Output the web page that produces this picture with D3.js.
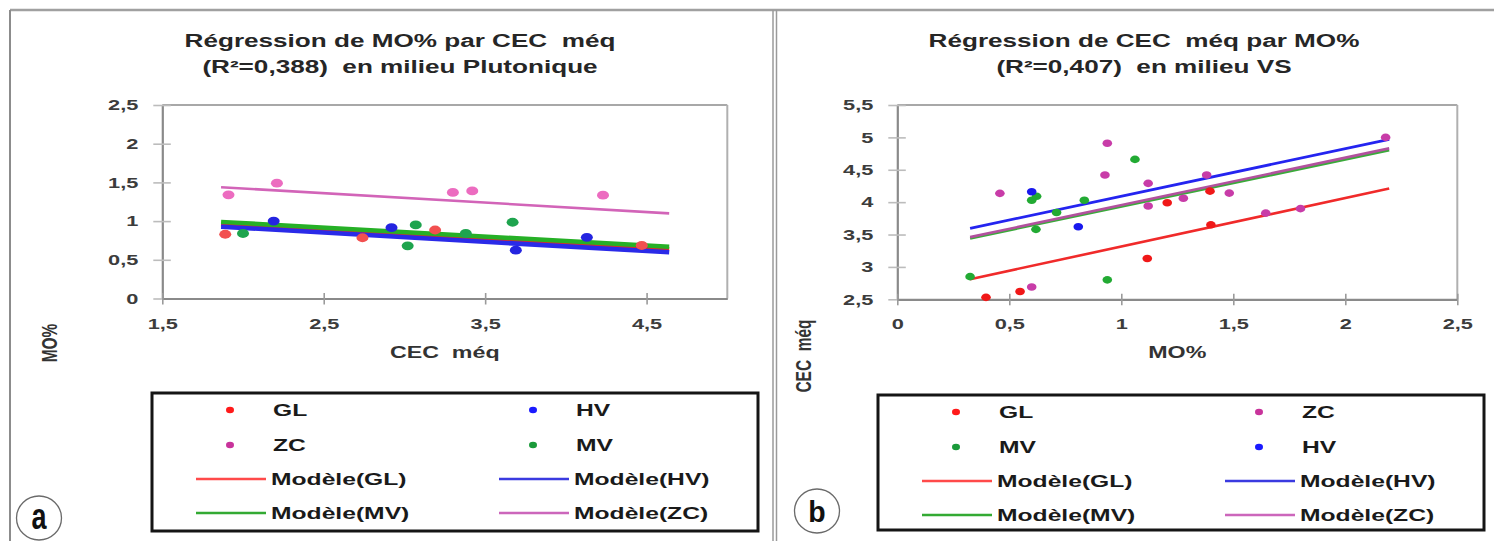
<!DOCTYPE html>
<html><head><meta charset="utf-8">
<script src="https://cdn.jsdelivr.net/npm/d3@7"></script>
<style>
html,body{margin:0;padding:0;background:#fff;}
svg{display:block;}
text{font-family:"Liberation Sans",Arial,sans-serif;}
</style>
</head><body>
<svg id="c" width="1494" height="541"></svg>
<script>
// ---------- DATA ----------
// Panel a : MO% (y) vs CEC méq (x), milieu Plutonique
const aTitle = ["Régression de MO% par CEC  méq", "(R²=0,388)  en milieu Plutonique"];
const aXTitle = "CEC  méq";
const aYTitle = "MO%";
const aXTicks = [1.5, 2.5, 3.5, 4.5];
const aYTicks = [0, 0.5, 1, 1.5, 2, 2.5];
const aGL = [[1.89,0.83],[2.74,0.785],[3.19,0.885],[4.47,0.685]];
const aHV = [[2.19,1.0],[2.92,0.915],[3.69,0.625],[4.13,0.79]];
const aZC = [[1.91,1.34],[2.21,1.49],[3.30,1.37],[3.42,1.39],[4.23,1.335]];
const aMV = [[2.0,0.84],[3.02,0.68],[3.07,0.95],[3.38,0.84],[3.67,0.985]];
const aModelGL = [[1.864,0.958],[4.64,0.635]];
const aModelHV = [[1.864,0.928],[4.64,0.596]];
const aModelMV = [[1.864,0.99],[4.64,0.668]];
const aModelZC = [[1.864,1.438],[4.64,1.10]];
const aLegend = ["GL","HV","ZC","MV","Modèle(GL)","Modèle(HV)","Modèle(MV)","Modèle(ZC)"];

// Panel b : CEC méq (y) vs MO% (x), milieu VS
const bTitle = ["Régression de CEC  méq par MO%", "(R²=0,407)  en milieu VS"];
const bXTitle = "MO%";
const bYTitle = "CEC  méq";
const bXTicks = [0, 0.5, 1, 1.5, 2, 2.5];
const bYTicks = [2.5, 3, 3.5, 4, 4.5, 5, 5.5];
const bGL = [[0.396,2.53],[0.548,2.62],[1.116,3.13],[1.205,3.99],[1.396,4.17],[1.40,3.65]];
const bZC = [[0.458,4.136],[0.60,2.69],[0.9375,4.91],[0.927,4.42],[1.12,4.29],[1.12,3.94],[1.277,4.06],[1.381,4.42],[1.482,4.14],[1.645,3.83],[1.80,3.90],[2.18,5.0]];
const bMV = [[0.325,2.85],[0.60,4.03],[0.622,4.09],[0.619,3.58],[0.711,3.84],[0.835,4.03],[0.9375,2.80],[1.061,4.66]];
const bHV = [[0.60,4.16],[0.808,3.62]];
const bModelGL = [[0.325,2.81],[2.196,4.21]];
const bModelHV = [[0.325,3.596],[2.196,4.97]];
const bModelMV = [[0.325,3.44],[2.196,4.80]];
const bModelZC = [[0.325,3.46],[2.196,4.83]];
const bLegend = ["GL","ZC","MV","HV","Modèle(GL)","Modèle(HV)","Modèle(MV)","Modèle(ZC)"];

// ---------- DRAWING ----------
const SX = 1.45; // the reference is horizontally stretched
const svg = d3.select("#c");
const fmt = d => String(d).replace(".", ",");

function stretch(sel, k) {
  sel.each(function () {
    const w = this.getComputedTextLength();
    this.setAttribute("textLength", w * (k || SX));
    this.setAttribute("lengthAdjust", "spacingAndGlyphs");
  });
}

// outer frames
svg.append("line").attr("x1",10).attr("x2",1494).attr("y1",10).attr("y2",10).attr("stroke","#a0a0a0").attr("stroke-width",2.5);
svg.append("line").attr("x1",10).attr("x2",10).attr("y1",10).attr("y2",541).attr("stroke","#8c8c8c").attr("stroke-width",2);
svg.append("line").attr("x1",773).attr("x2",773).attr("y1",10).attr("y2",541).attr("stroke","#9a9a9a").attr("stroke-width",1.5);
svg.append("line").attr("x1",776.5).attr("x2",776.5).attr("y1",10).attr("y2",541).attr("stroke","#9a9a9a").attr("stroke-width",1.5);

const COL = {
  a: {GL:"#f25050", HV:"#2424e0", ZC:"#ec6cc0", MV:"#1ea44e",
      lGL:"#dc2a2a", lHV:"#2a2ae8", lZC:"#d264b8", lMV:"#26b026"},
  b: {GL:"#f01818", HV:"#1818ee", ZC:"#c83ca8", MV:"#22aa33",
      lGL:"#f02a2a", lHV:"#2424f0", lZC:"#b2519e", lMV:"#3aaa3a"},
  leg: {GL:"#ff1a1a", HV:"#1a1aff", ZC:"#c8339b", MV:"#1a9a3a",
      lGL:"#ff4a4a", lHV:"#3a3ae0", lZC:"#cc66bb", lMV:"#33aa33"}
};

function panel(cfg) {
  const x = d3.scaleLinear().domain(cfg.xDomain).range([cfg.x0, cfg.x1]);
  const y = d3.scaleLinear().domain(cfg.yDomain).range([cfg.y1, cfg.y0]);
  const g = svg.append("g");

  // titles
  cfg.title.forEach((t, i) => {
    g.append("text").attr("x", cfg.titleX).attr("y", 47 + i * 26)
      .attr("text-anchor","middle").style("white-space","pre")
      .attr("font-size",18).attr("font-weight","bold").attr("fill","#262626")
      .text(t).call(stretch);
  });

  // plot frame (top + right)
  g.append("line").attr("x1",cfg.x0).attr("x2",cfg.x1).attr("y1",cfg.y0).attr("y2",cfg.y0).attr("stroke","#a8a8a8").attr("stroke-width",2);
  g.append("line").attr("x1",cfg.x1).attr("x2",cfg.x1).attr("y1",cfg.y0).attr("y2",cfg.y1).attr("stroke","#b0b0b0").attr("stroke-width",2);

  // axes
  const gy = g.append("g").attr("transform",`translate(${cfg.x0},0)`)
    .call(d3.axisLeft(y).tickValues(cfg.yTicks).tickFormat(fmt).tickSize(9).tickSizeOuter(0).tickPadding(15));
  gy.select(".domain").attr("stroke","#8a8a8a").attr("stroke-width",2.2);
  gy.selectAll(".tick line").attr("x1",8.5).attr("stroke","#bcbcbc").attr("stroke-width",1.6);
  gy.selectAll(".tick text").attr("font-size",15).attr("font-weight","bold").attr("fill","#3c3c3c").call(stretch);

  const gx = g.append("g").attr("transform",`translate(0,${cfg.y1})`)
    .call(d3.axisBottom(x).tickValues(cfg.xTicks).tickFormat(fmt).tickSize(6).tickSizeOuter(0).tickPadding(13.5));
  gx.select(".domain").attr("stroke","#8a8a8a").attr("stroke-width",2.2);
  gx.selectAll(".tick line").attr("y1",-5.5).attr("stroke","#9a9a9a").attr("stroke-width",1.6);
  gx.selectAll(".tick text").attr("font-size",15).attr("font-weight","bold").attr("fill","#3c3c3c").call(stretch);

  // axis titles
  g.append("text").attr("x",(cfg.x0+cfg.x1)/2).attr("y",358).attr("text-anchor","middle")
    .style("white-space","pre").attr("font-size",16).attr("font-weight","bold").attr("fill","#333")
    .text(cfg.xTitle).call(stretch);
  g.append("g").attr("transform",`translate(${cfg.yTitleX},${cfg.yTitleY}) scale(${SX},1) rotate(-90)`)
    .append("text").attr("text-anchor","middle").attr("dy","0.36em").style("white-space","pre")
    .attr("font-size",15.5).attr("font-weight","bold").attr("fill","#333").text(cfg.yTitle);

  // model lines
  const line = d3.line().x(d => x(d[0])).y(d => y(d[1]));
  cfg.models.forEach(m => {
    g.append("path").datum(m.data).attr("d", line).attr("fill","none")
      .attr("stroke", m.color).attr("stroke-width", m.w).attr("stroke-linecap","butt");
  });

  // points
  cfg.series.forEach(s => {
    g.selectAll(null).data(s.data).join("ellipse")
      .attr("cx", d => x(d[0])).attr("cy", d => y(d[1]))
      .attr("rx", cfg.rx).attr("ry", cfg.ry).attr("fill", s.color);
  });

  // legend
  const L = cfg.leg.x, T = cfg.leg.y;
  g.append("rect").attr("x",L).attr("y",T).attr("width",cfg.leg.w).attr("height",cfg.leg.h)
    .attr("fill","#fff").attr("stroke","#151515").attr("stroke-width",3);
  const rows = [T+17, T+52, T+86, T+120];
  cfg.legItems.forEach((it, i) => {
    const r = rows[Math.floor(i/2)], c = i % 2;
    const base = c === 0 ? L : L + 303;
    if (it.type === "dot") {
      g.append("ellipse").attr("cx", base+78).attr("cy", r).attr("rx",4).attr("ry",3.3).attr("fill", it.color);
      g.append("text").attr("x", base+121).attr("y", r).attr("dy","0.36em")
        .attr("font-size",17).attr("font-weight","bold").attr("fill","#1a1a1a").text(it.label).call(stretch);
    } else {
      g.append("line").attr("x1", base+44).attr("x2", base+114).attr("y1", r).attr("y2", r)
        .attr("stroke", it.color).attr("stroke-width",2.6);
      g.append("text").attr("x", base+119).attr("y", r).attr("dy","0.36em")
        .attr("font-size",17).attr("font-weight","bold").attr("fill","#1a1a1a").text(it.label).call(stretch);
    }
  });

  // tag
  g.append("ellipse").attr("cx",cfg.tag.x).attr("cy",cfg.tag.y).attr("rx",22.5).attr("ry",22)
    .attr("fill","none").attr("stroke","#6a6a6a").attr("stroke-width",1.3);
  g.append("g").attr("transform",`translate(${cfg.tag.x},${cfg.tag.y + 11}) scale(${cfg.tag.sx},1)`)
    .append("text").attr("text-anchor","middle").attr("font-size",cfg.tag.size).attr("font-weight","bold")
    .attr("fill","#111").text(cfg.tag.t);
}

panel({
  x0:162.3, x1:727.3, y0:105, y1:298.5, xDomain:[1.5,5], yDomain:[0,2.5],
  xTicks:aXTicks, yTicks:aYTicks, title:aTitle, titleX:400,
  xTitle:aXTitle, yTitle:aYTitle, yTitleX:49, yTitleY:343,
  rx:6, ry:4.4,
  models:[
    {data:aModelGL, color:COL.a.lGL, w:4.5},
    {data:aModelMV, color:COL.a.lMV, w:4.5},
    {data:aModelHV, color:COL.a.lHV, w:4.5},
    {data:aModelZC, color:COL.a.lZC, w:2.6}
  ].sort((p,q)=>0),
  series:[
    {data:aGL, color:COL.a.GL},{data:aHV, color:COL.a.HV},
    {data:aZC, color:COL.a.ZC},{data:aMV, color:COL.a.MV}
  ],
  leg:{x:152, y:393, w:606, h:138},
  legItems:[
    {type:"dot", label:aLegend[0], color:COL.leg.GL},
    {type:"dot", label:aLegend[1], color:COL.leg.HV},
    {type:"dot", label:aLegend[2], color:COL.leg.ZC},
    {type:"dot", label:aLegend[3], color:COL.leg.MV},
    {type:"line", label:aLegend[4], color:COL.leg.lGL},
    {type:"line", label:aLegend[5], color:COL.leg.lHV},
    {type:"line", label:aLegend[6], color:COL.leg.lMV},
    {type:"line", label:aLegend[7], color:COL.leg.lZC}
  ],
  tag:{x:39, y:518, t:"a", size:36, sx:0.75}
});

panel({
  x0:897.3, x1:1457.3, y0:105, y1:299.3, xDomain:[0,2.5], yDomain:[2.5,5.5],
  xTicks:bXTicks, yTicks:bYTicks, title:bTitle, titleX:1144,
  xTitle:bXTitle, yTitle:bYTitle, yTitleX:803, yTitleY:356,
  rx:4.8, ry:3.8,
  models:[
    {data:bModelGL, color:COL.b.lGL, w:2.6},
    {data:bModelMV, color:COL.b.lMV, w:2.6},
    {data:bModelZC, color:COL.b.lZC, w:2.6},
    {data:bModelHV, color:COL.b.lHV, w:2.8}
  ],
  series:[
    {data:bGL, color:COL.b.GL},{data:bZC, color:COL.b.ZC},
    {data:bMV, color:COL.b.MV},{data:bHV, color:COL.b.HV}
  ],
  leg:{x:878, y:395, w:606, h:135},
  legItems:[
    {type:"dot", label:bLegend[0], color:COL.leg.GL},
    {type:"dot", label:bLegend[1], color:COL.leg.ZC},
    {type:"dot", label:bLegend[2], color:COL.leg.MV},
    {type:"dot", label:bLegend[3], color:COL.leg.HV},
    {type:"line", label:bLegend[4], color:COL.leg.lGL},
    {type:"line", label:bLegend[5], color:COL.leg.lHV},
    {type:"line", label:bLegend[6], color:COL.leg.lMV},
    {type:"line", label:bLegend[7], color:COL.leg.lZC}
  ],
  tag:{x:817, y:511, t:"b", size:30, sx:0.95}
});
</script>
</body></html>
